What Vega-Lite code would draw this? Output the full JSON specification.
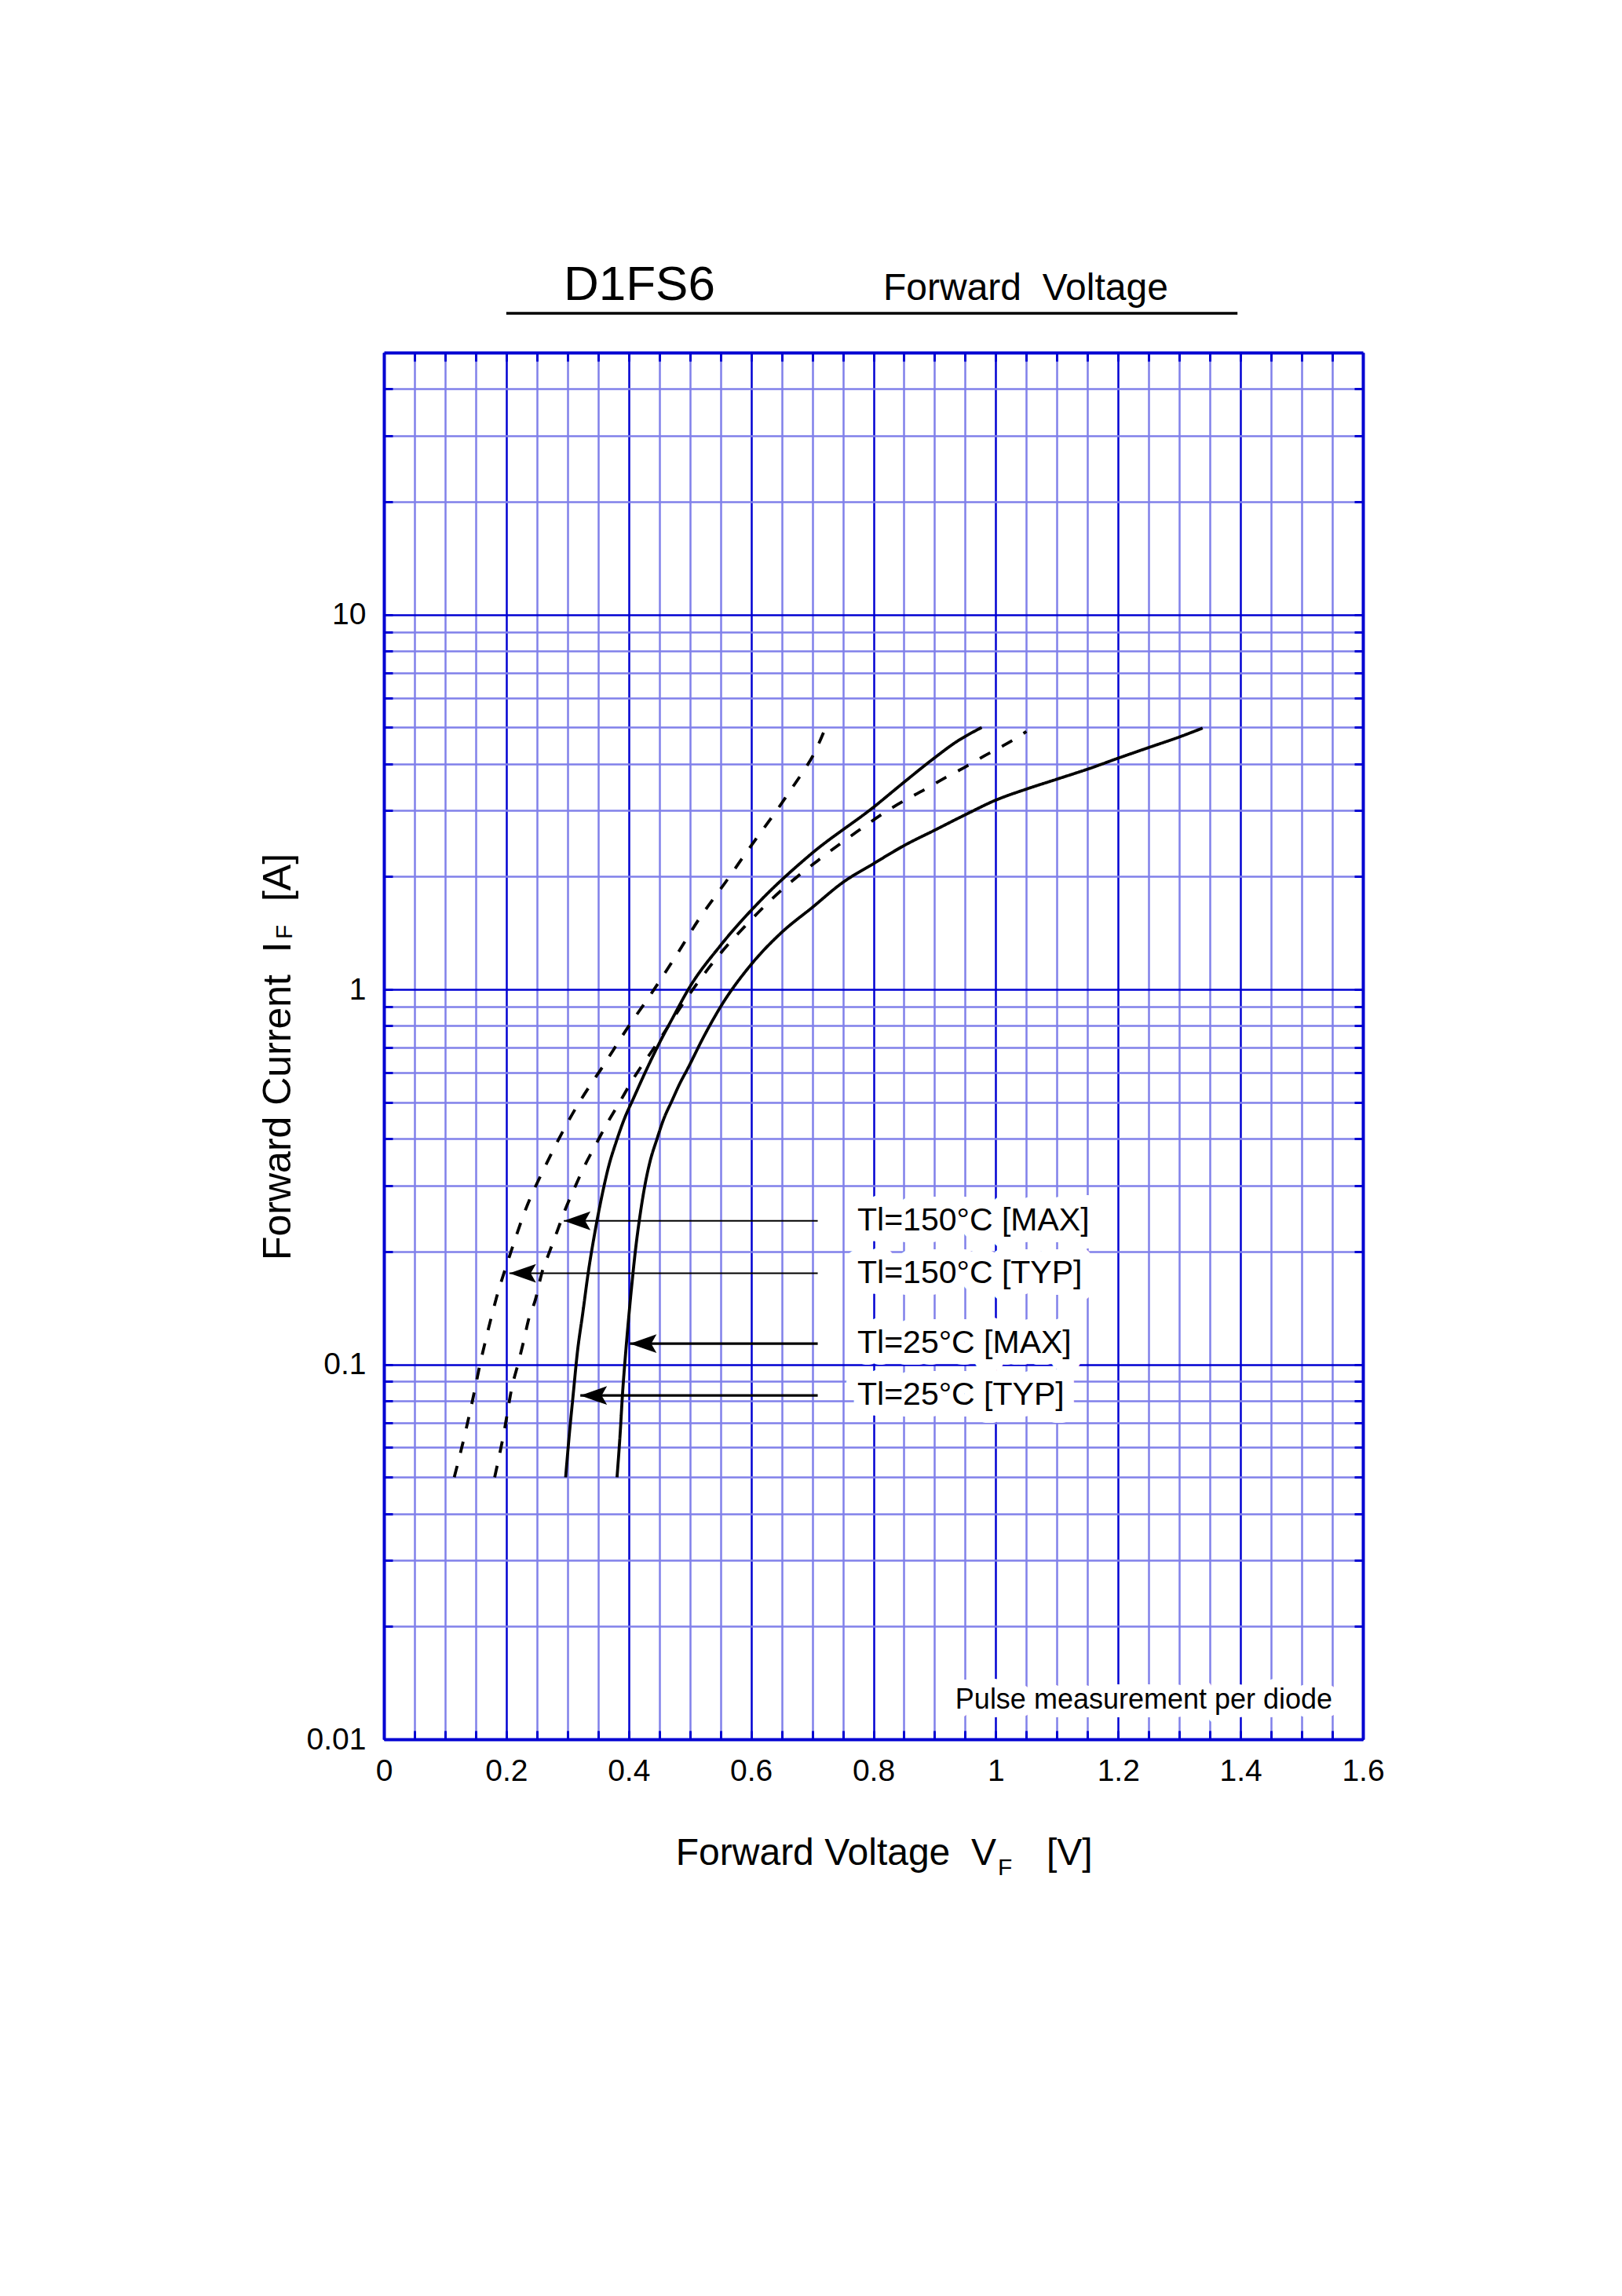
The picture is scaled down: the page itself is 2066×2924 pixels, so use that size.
{
  "$schema": "https://vega.github.io/schema/vega-lite/v6.json",
  "width": 1247,
  "height": 1766,
  "autosize": {"type": "none"},
  "padding": {"left": 489, "top": 449, "right": 330, "bottom": 709},
  "background": "white",
  "config": {"view": {"stroke": null}, "font": "Liberation Sans"},
  "datasets": {
    "curves": [
      {"curve": "Tl=25°C [TYP]", "voltage": 0.297, "current": 0.05},
      {"curve": "Tl=25°C [TYP]", "voltage": 0.303, "current": 0.065},
      {"curve": "Tl=25°C [TYP]", "voltage": 0.3095, "current": 0.0836},
      {"curve": "Tl=25°C [TYP]", "voltage": 0.316, "current": 0.107},
      {"curve": "Tl=25°C [TYP]", "voltage": 0.325, "current": 0.137},
      {"curve": "Tl=25°C [TYP]", "voltage": 0.334, "current": 0.176},
      {"curve": "Tl=25°C [TYP]", "voltage": 0.345, "current": 0.226},
      {"curve": "Tl=25°C [TYP]", "voltage": 0.356, "current": 0.28},
      {"curve": "Tl=25°C [TYP]", "voltage": 0.367, "current": 0.336},
      {"curve": "Tl=25°C [TYP]", "voltage": 0.38, "current": 0.394},
      {"curve": "Tl=25°C [TYP]", "voltage": 0.393, "current": 0.452},
      {"curve": "Tl=25°C [TYP]", "voltage": 0.408, "current": 0.513},
      {"curve": "Tl=25°C [TYP]", "voltage": 0.426, "current": 0.596},
      {"curve": "Tl=25°C [TYP]", "voltage": 0.448, "current": 0.708},
      {"curve": "Tl=25°C [TYP]", "voltage": 0.472, "current": 0.84},
      {"curve": "Tl=25°C [TYP]", "voltage": 0.499, "current": 1.01},
      {"curve": "Tl=25°C [TYP]", "voltage": 0.55, "current": 1.31},
      {"curve": "Tl=25°C [TYP]", "voltage": 0.613, "current": 1.71},
      {"curve": "Tl=25°C [TYP]", "voltage": 0.697, "current": 2.29},
      {"curve": "Tl=25°C [TYP]", "voltage": 0.803, "current": 3.09},
      {"curve": "Tl=25°C [TYP]", "voltage": 0.848, "current": 3.55},
      {"curve": "Tl=25°C [TYP]", "voltage": 0.9, "current": 4.15},
      {"curve": "Tl=25°C [TYP]", "voltage": 0.934, "current": 4.56},
      {"curve": "Tl=25°C [TYP]", "voltage": 0.977, "current": 5.0},

      {"curve": "Tl=25°C [MAX]", "voltage": 0.381, "current": 0.05},
      {"curve": "Tl=25°C [MAX]", "voltage": 0.386, "current": 0.065},
      {"curve": "Tl=25°C [MAX]", "voltage": 0.39, "current": 0.0836},
      {"curve": "Tl=25°C [MAX]", "voltage": 0.395, "current": 0.107},
      {"curve": "Tl=25°C [MAX]", "voltage": 0.4, "current": 0.133},
      {"curve": "Tl=25°C [MAX]", "voltage": 0.405, "current": 0.162},
      {"curve": "Tl=25°C [MAX]", "voltage": 0.411, "current": 0.201},
      {"curve": "Tl=25°C [MAX]", "voltage": 0.418, "current": 0.246},
      {"curve": "Tl=25°C [MAX]", "voltage": 0.4265, "current": 0.3},
      {"curve": "Tl=25°C [MAX]", "voltage": 0.435, "current": 0.348},
      {"curve": "Tl=25°C [MAX]", "voltage": 0.446, "current": 0.398},
      {"curve": "Tl=25°C [MAX]", "voltage": 0.457, "current": 0.45},
      {"curve": "Tl=25°C [MAX]", "voltage": 0.471, "current": 0.506},
      {"curve": "Tl=25°C [MAX]", "voltage": 0.484, "current": 0.563},
      {"curve": "Tl=25°C [MAX]", "voltage": 0.496, "current": 0.613},
      {"curve": "Tl=25°C [MAX]", "voltage": 0.523, "current": 0.75},
      {"curve": "Tl=25°C [MAX]", "voltage": 0.55, "current": 0.898},
      {"curve": "Tl=25°C [MAX]", "voltage": 0.599, "current": 1.16},
      {"curve": "Tl=25°C [MAX]", "voltage": 0.648, "current": 1.41},
      {"curve": "Tl=25°C [MAX]", "voltage": 0.701, "current": 1.66},
      {"curve": "Tl=25°C [MAX]", "voltage": 0.75, "current": 1.93},
      {"curve": "Tl=25°C [MAX]", "voltage": 0.803, "current": 2.18},
      {"curve": "Tl=25°C [MAX]", "voltage": 0.85, "current": 2.42},
      {"curve": "Tl=25°C [MAX]", "voltage": 0.9, "current": 2.66},
      {"curve": "Tl=25°C [MAX]", "voltage": 0.951, "current": 2.93},
      {"curve": "Tl=25°C [MAX]", "voltage": 1.0, "current": 3.2},
      {"curve": "Tl=25°C [MAX]", "voltage": 1.049, "current": 3.42},
      {"curve": "Tl=25°C [MAX]", "voltage": 1.1, "current": 3.64},
      {"curve": "Tl=25°C [MAX]", "voltage": 1.152, "current": 3.88},
      {"curve": "Tl=25°C [MAX]", "voltage": 1.2, "current": 4.14},
      {"curve": "Tl=25°C [MAX]", "voltage": 1.25, "current": 4.42},
      {"curve": "Tl=25°C [MAX]", "voltage": 1.299, "current": 4.71},
      {"curve": "Tl=25°C [MAX]", "voltage": 1.338, "current": 4.98},

      {"curve": "Tl=150°C [TYP]", "voltage": 0.115, "current": 0.05},
      {"curve": "Tl=150°C [TYP]", "voltage": 0.134, "current": 0.0668},
      {"curve": "Tl=150°C [TYP]", "voltage": 0.15, "current": 0.0879},
      {"curve": "Tl=150°C [TYP]", "voltage": 0.157, "current": 0.1},
      {"curve": "Tl=150°C [TYP]", "voltage": 0.166, "current": 0.1155},
      {"curve": "Tl=150°C [TYP]", "voltage": 0.184, "current": 0.1507},
      {"curve": "Tl=150°C [TYP]", "voltage": 0.206, "current": 0.196},
      {"curve": "Tl=150°C [TYP]", "voltage": 0.232, "current": 0.26},
      {"curve": "Tl=150°C [TYP]", "voltage": 0.263, "current": 0.336},
      {"curve": "Tl=150°C [TYP]", "voltage": 0.298, "current": 0.435},
      {"curve": "Tl=150°C [TYP]", "voltage": 0.316, "current": 0.49},
      {"curve": "Tl=150°C [TYP]", "voltage": 0.338, "current": 0.558},
      {"curve": "Tl=150°C [TYP]", "voltage": 0.354, "current": 0.61},
      {"curve": "Tl=150°C [TYP]", "voltage": 0.396, "current": 0.78},
      {"curve": "Tl=150°C [TYP]", "voltage": 0.436, "current": 0.97},
      {"curve": "Tl=150°C [TYP]", "voltage": 0.476, "current": 1.22},
      {"curve": "Tl=150°C [TYP]", "voltage": 0.516, "current": 1.55},
      {"curve": "Tl=150°C [TYP]", "voltage": 0.559, "current": 1.94},
      {"curve": "Tl=150°C [TYP]", "voltage": 0.601, "current": 2.43},
      {"curve": "Tl=150°C [TYP]", "voltage": 0.643, "current": 3.02},
      {"curve": "Tl=150°C [TYP]", "voltage": 0.665, "current": 3.41},
      {"curve": "Tl=150°C [TYP]", "voltage": 0.685, "current": 3.81},
      {"curve": "Tl=150°C [TYP]", "voltage": 0.704, "current": 4.29},
      {"curve": "Tl=150°C [TYP]", "voltage": 0.721, "current": 4.96},

      {"curve": "Tl=150°C [MAX]", "voltage": 0.181, "current": 0.05},
      {"curve": "Tl=150°C [MAX]", "voltage": 0.1956, "current": 0.065},
      {"curve": "Tl=150°C [MAX]", "voltage": 0.21, "current": 0.088},
      {"curve": "Tl=150°C [MAX]", "voltage": 0.219, "current": 0.1},
      {"curve": "Tl=150°C [MAX]", "voltage": 0.228, "current": 0.1146},
      {"curve": "Tl=150°C [MAX]", "voltage": 0.2366, "current": 0.132},
      {"curve": "Tl=150°C [MAX]", "voltage": 0.2477, "current": 0.149},
      {"curve": "Tl=150°C [MAX]", "voltage": 0.258, "current": 0.175},
      {"curve": "Tl=150°C [MAX]", "voltage": 0.2698, "current": 0.198},
      {"curve": "Tl=150°C [MAX]", "voltage": 0.283, "current": 0.226},
      {"curve": "Tl=150°C [MAX]", "voltage": 0.296, "current": 0.258},
      {"curve": "Tl=150°C [MAX]", "voltage": 0.311, "current": 0.294},
      {"curve": "Tl=150°C [MAX]", "voltage": 0.327, "current": 0.336},
      {"curve": "Tl=150°C [MAX]", "voltage": 0.346, "current": 0.385},
      {"curve": "Tl=150°C [MAX]", "voltage": 0.365, "current": 0.44},
      {"curve": "Tl=150°C [MAX]", "voltage": 0.3845, "current": 0.498},
      {"curve": "Tl=150°C [MAX]", "voltage": 0.405, "current": 0.569},
      {"curve": "Tl=150°C [MAX]", "voltage": 0.448, "current": 0.724},
      {"curve": "Tl=150°C [MAX]", "voltage": 0.494, "current": 0.944},
      {"curve": "Tl=150°C [MAX]", "voltage": 0.545, "current": 1.22},
      {"curve": "Tl=150°C [MAX]", "voltage": 0.596, "current": 1.51},
      {"curve": "Tl=150°C [MAX]", "voltage": 0.648, "current": 1.83},
      {"curve": "Tl=150°C [MAX]", "voltage": 0.708, "current": 2.2},
      {"curve": "Tl=150°C [MAX]", "voltage": 0.768, "current": 2.6},
      {"curve": "Tl=150°C [MAX]", "voltage": 0.83, "current": 3.05},
      {"curve": "Tl=150°C [MAX]", "voltage": 0.887, "current": 3.44},
      {"curve": "Tl=150°C [MAX]", "voltage": 0.917, "current": 3.67},
      {"curve": "Tl=150°C [MAX]", "voltage": 0.951, "current": 3.93},
      {"curve": "Tl=150°C [MAX]", "voltage": 0.979, "current": 4.18},
      {"curve": "Tl=150°C [MAX]", "voltage": 1.01, "current": 4.45},
      {"curve": "Tl=150°C [MAX]", "voltage": 1.043, "current": 4.79},
      {"curve": "Tl=150°C [MAX]", "voltage": 1.05, "current": 4.88}
    ],
    "arrows": [
      {"label": "Tl=150°C [MAX]", "tip": 0.294, "current": 0.2415},
      {"label": "Tl=150°C [TYP]", "tip": 0.205, "current": 0.175},
      {"label": "Tl=25°C [MAX]", "tip": 0.402, "current": 0.1136},
      {"label": "Tl=25°C [TYP]", "tip": 0.321, "current": 0.0826}
    ],
    "one": [{}]
  },
  "layer": [
    {
      "data": {"name": "curves"},
      "mark": {"type": "line", "color": "black", "strokeWidth": 3.8, "interpolate": "monotone", "strokeCap": "butt"},
      "encoding": {
        "x": {
          "field": "voltage", "type": "quantitative",
          "scale": {"domain": [0, 1.6], "nice": false, "zero": false},
          "axis": {
            "orient": "bottom", "title": null,
            "values": [0, 0.05, 0.1, 0.15, 0.2, 0.25, 0.3, 0.35, 0.4, 0.45, 0.5, 0.55, 0.6, 0.65, 0.7, 0.75, 0.8, 0.85, 0.9, 0.95, 1, 1.05, 1.1, 1.15, 1.2, 1.25, 1.3, 1.35, 1.4, 1.45, 1.5, 1.55, 1.6],
            "labelExpr": "indexof([0,0.2,0.4,0.6,0.8,1,1.2,1.4,1.6], datum.value) >= 0 ? toString(datum.value) : ''",
            "labelFont": "Liberation Sans", "labelFontSize": 39, "labelColor": "black",
            "labelOverlap": false, "labelFlush": false, "labelBound": false, "labelPadding": 32, "labelBaseline": "top",
            "grid": true, "gridWidth": 2.5,
            "gridColor": {"condition": {"test": "indexof([0,0.2,0.4,0.6,0.8,1,1.2,1.4,1.6], datum.value) >= 0", "value": "#0000d2"}, "value": "#8080ea"},
            "ticks": true, "tickSize": -11, "tickWidth": 3, "tickColor": "#0000d2",
            "domain": true, "domainColor": "#0000d2", "domainWidth": 4
          }
        },
        "y": {
          "field": "current", "type": "quantitative",
          "scale": {"type": "log", "domain": [0.01, 50], "nice": false},
          "axis": {
            "orient": "left", "title": null,
            "values": [0.01, 0.02, 0.03, 0.04, 0.05, 0.06, 0.07, 0.08, 0.09, 0.1, 0.2, 0.3, 0.4, 0.5, 0.6, 0.7, 0.8, 0.9, 1, 2, 3, 4, 5, 6, 7, 8, 9, 10, 20, 30, 40],
            "labelExpr": "indexof([0.01,0.1,1,10], datum.value) >= 0 ? toString(datum.value) : ''",
            "labelFont": "Liberation Sans", "labelFontSize": 39, "labelColor": "black",
            "labelOverlap": false, "labelFlush": false, "labelBound": false, "labelPadding": 34,
            "grid": true, "gridWidth": 2.5,
            "gridColor": {"condition": {"test": "indexof([0.01,0.1,1,10], datum.value) >= 0", "value": "#0000d2"}, "value": "#8080ea"},
            "ticks": true, "tickSize": -11, "tickWidth": 3, "tickColor": "#0000d2",
            "domain": true, "domainColor": "#0000d2", "domainWidth": 4
          }
        },
        "strokeDash": {
          "field": "curve", "type": "nominal",
          "scale": {"domain": ["Tl=25°C [TYP]", "Tl=25°C [MAX]", "Tl=150°C [TYP]", "Tl=150°C [MAX]"], "range": [[1, 0], [1, 0], [15, 17], [15, 17]]},
          "legend": null
        }
      }
    },
    {
      "data": {"name": "arrows"},
      "mark": {"type": "rule", "color": "black"},
      "encoding": {
        "x": {
          "field": "tip", "type": "quantitative",
          "scale": {"domain": [0, 1.6], "nice": false, "zero": false},
          "axis": {
            "orient": "top", "title": null, "labels": false, "grid": false,
            "values": [0, 0.05, 0.1, 0.15, 0.2, 0.25, 0.3, 0.35, 0.4, 0.45, 0.5, 0.55, 0.6, 0.65, 0.7, 0.75, 0.8, 0.85, 0.9, 0.95, 1, 1.05, 1.1, 1.15, 1.2, 1.25, 1.3, 1.35, 1.4, 1.45, 1.5, 1.55, 1.6],
            "ticks": true, "tickSize": -11, "tickWidth": 3, "tickColor": "#0000d2",
            "domain": true, "domainColor": "#0000d2", "domainWidth": 4
          }
        },
        "x2": {"datum": 0.709},
        "y": {
          "field": "current", "type": "quantitative",
          "scale": {"type": "log", "domain": [0.01, 50], "nice": false},
          "axis": {
            "orient": "right", "title": null, "labels": false, "grid": false,
            "values": [0.01, 0.02, 0.03, 0.04, 0.05, 0.06, 0.07, 0.08, 0.09, 0.1, 0.2, 0.3, 0.4, 0.5, 0.6, 0.7, 0.8, 0.9, 1, 2, 3, 4, 5, 6, 7, 8, 9, 10, 20, 30, 40],
            "ticks": true, "tickSize": -11, "tickWidth": 3, "tickColor": "#0000d2",
            "domain": true, "domainColor": "#0000d2", "domainWidth": 4
          }
        },
        "strokeWidth": {"condition": {"test": "indexof(datum.label, '150') >= 0", "value": 2}, "value": 3.2}
      }
    },
    {
      "data": {"name": "arrows"},
      "mark": {"type": "point", "shape": "M0,0L1,-0.35L0.8,0L1,0.35Z", "filled": true, "color": "black", "size": 4624, "opacity": 1, "strokeWidth": 0},
      "encoding": {
        "x": {"field": "tip", "type": "quantitative", "axis": null},
        "y": {"field": "current", "type": "quantitative", "scale": {"type": "log", "domain": [0.01, 50], "nice": false}, "axis": null}
      }
    },
    {
      "data": {"name": "arrows"},
      "mark": {"type": "text", "align": "left", "baseline": "middle", "font": "Liberation Sans", "fontSize": 41, "fill": "white", "stroke": "white", "strokeWidth": 30, "strokeJoin": "round"},
      "encoding": {
        "x": {"datum": 0.7737, "type": "quantitative", "axis": null},
        "y": {"field": "current", "type": "quantitative", "scale": {"type": "log", "domain": [0.01, 50], "nice": false}, "axis": null},
        "text": {"field": "label"}
      }
    },
    {
      "data": {"name": "arrows"},
      "mark": {"type": "text", "align": "left", "baseline": "middle", "font": "Liberation Sans", "fontSize": 41, "color": "black"},
      "encoding": {
        "x": {"datum": 0.7737, "type": "quantitative", "axis": null},
        "y": {"field": "current", "type": "quantitative", "scale": {"type": "log", "domain": [0.01, 50], "nice": false}, "axis": null},
        "text": {"field": "label"}
      }
    },
    {
      "data": {"name": "one"},
      "mark": {"type": "text", "align": "center", "baseline": "middle", "font": "Liberation Sans", "fontSize": 36, "fill": "white", "stroke": "white", "strokeWidth": 22, "strokeJoin": "round", "text": "Pulse measurement per diode"},
      "encoding": {
        "x": {"datum": 1.242, "type": "quantitative", "axis": null},
        "y": {"datum": 0.01275, "type": "quantitative", "scale": {"type": "log", "domain": [0.01, 50], "nice": false}, "axis": null}
      }
    },
    {
      "data": {"name": "one"},
      "mark": {"type": "text", "align": "center", "baseline": "middle", "font": "Liberation Sans", "fontSize": 36, "color": "black", "text": "Pulse measurement per diode"},
      "encoding": {
        "x": {"datum": 1.242, "type": "quantitative", "axis": null},
        "y": {"datum": 0.01275, "type": "quantitative", "scale": {"type": "log", "domain": [0.01, 50], "nice": false}, "axis": null}
      }
    },
    {
      "data": {"name": "one"},
      "mark": {"type": "text", "align": "left", "baseline": "alphabetic", "font": "Liberation Sans", "fontSize": 62, "color": "black", "text": "D1FS6"},
      "encoding": {
        "x": {"datum": 0.2938, "type": "quantitative", "axis": null},
        "y": {"datum": 69.1, "type": "quantitative", "scale": {"type": "log", "domain": [0.01, 50], "nice": false}, "axis": null}
      }
    },
    {
      "data": {"name": "one"},
      "mark": {"type": "text", "align": "left", "baseline": "alphabetic", "font": "Liberation Sans", "fontSize": 48, "color": "black", "text": "Forward\u00a0 Voltage"},
      "encoding": {
        "x": {"datum": 0.816, "type": "quantitative", "axis": null},
        "y": {"datum": 69.1, "type": "quantitative", "scale": {"type": "log", "domain": [0.01, 50], "nice": false}, "axis": null}
      }
    },
    {
      "data": {"name": "one"},
      "mark": {"type": "rule", "color": "black", "strokeWidth": 3.5},
      "encoding": {
        "x": {"datum": 0.2, "type": "quantitative", "axis": null},
        "x2": {"datum": 1.395},
        "y": {"datum": 63.6, "type": "quantitative", "scale": {"type": "log", "domain": [0.01, 50], "nice": false}, "axis": null}
      }
    },
    {
      "data": {"name": "one"},
      "mark": {"type": "text", "align": "right", "baseline": "alphabetic", "font": "Liberation Sans", "fontSize": 48, "color": "black", "text": "Forward Voltage\u00a0 V"},
      "encoding": {
        "x": {"datum": 1.0008, "type": "quantitative", "axis": null},
        "y": {"datum": 0.004619, "type": "quantitative", "scale": {"type": "log", "domain": [0.01, 50], "nice": false}, "axis": null}
      }
    },
    {
      "data": {"name": "one"},
      "mark": {"type": "text", "align": "left", "baseline": "alphabetic", "font": "Liberation Sans", "fontSize": 30, "color": "black", "text": "F"},
      "encoding": {
        "x": {"datum": 1.0033, "type": "quantitative", "axis": null},
        "y": {"datum": 0.004339, "type": "quantitative", "scale": {"type": "log", "domain": [0.01, 50], "nice": false}, "axis": null}
      }
    },
    {
      "data": {"name": "one"},
      "mark": {"type": "text", "align": "left", "baseline": "alphabetic", "font": "Liberation Sans", "fontSize": 48, "color": "black", "text": "[V]"},
      "encoding": {
        "x": {"datum": 1.0829, "type": "quantitative", "axis": null},
        "y": {"datum": 0.004619, "type": "quantitative", "scale": {"type": "log", "domain": [0.01, 50], "nice": false}, "axis": null}
      }
    },
    {
      "data": {"name": "one"},
      "mark": {"type": "text", "align": "left", "baseline": "alphabetic", "angle": 270, "font": "Liberation Sans", "fontSize": 50, "color": "black", "text": "Forward Current\u00a0 I"},
      "encoding": {
        "x": {"datum": -0.1527, "type": "quantitative", "axis": null},
        "y": {"datum": 0.1895, "type": "quantitative", "scale": {"type": "log", "domain": [0.01, 50], "nice": false}, "axis": null}
      }
    },
    {
      "data": {"name": "one"},
      "mark": {"type": "text", "align": "left", "baseline": "alphabetic", "angle": 270, "font": "Liberation Sans", "fontSize": 30, "color": "black", "text": "F"},
      "encoding": {
        "x": {"datum": -0.1502, "type": "quantitative", "axis": null},
        "y": {"datum": 1.3624, "type": "quantitative", "scale": {"type": "log", "domain": [0.01, 50], "nice": false}, "axis": null}
      }
    },
    {
      "data": {"name": "one"},
      "mark": {"type": "text", "align": "left", "baseline": "alphabetic", "angle": 270, "font": "Liberation Sans", "fontSize": 50, "color": "black", "text": "[A]"},
      "encoding": {
        "x": {"datum": -0.1527, "type": "quantitative", "axis": null},
        "y": {"datum": 1.7173, "type": "quantitative", "scale": {"type": "log", "domain": [0.01, 50], "nice": false}, "axis": null}
      }
    }
  ]
}
